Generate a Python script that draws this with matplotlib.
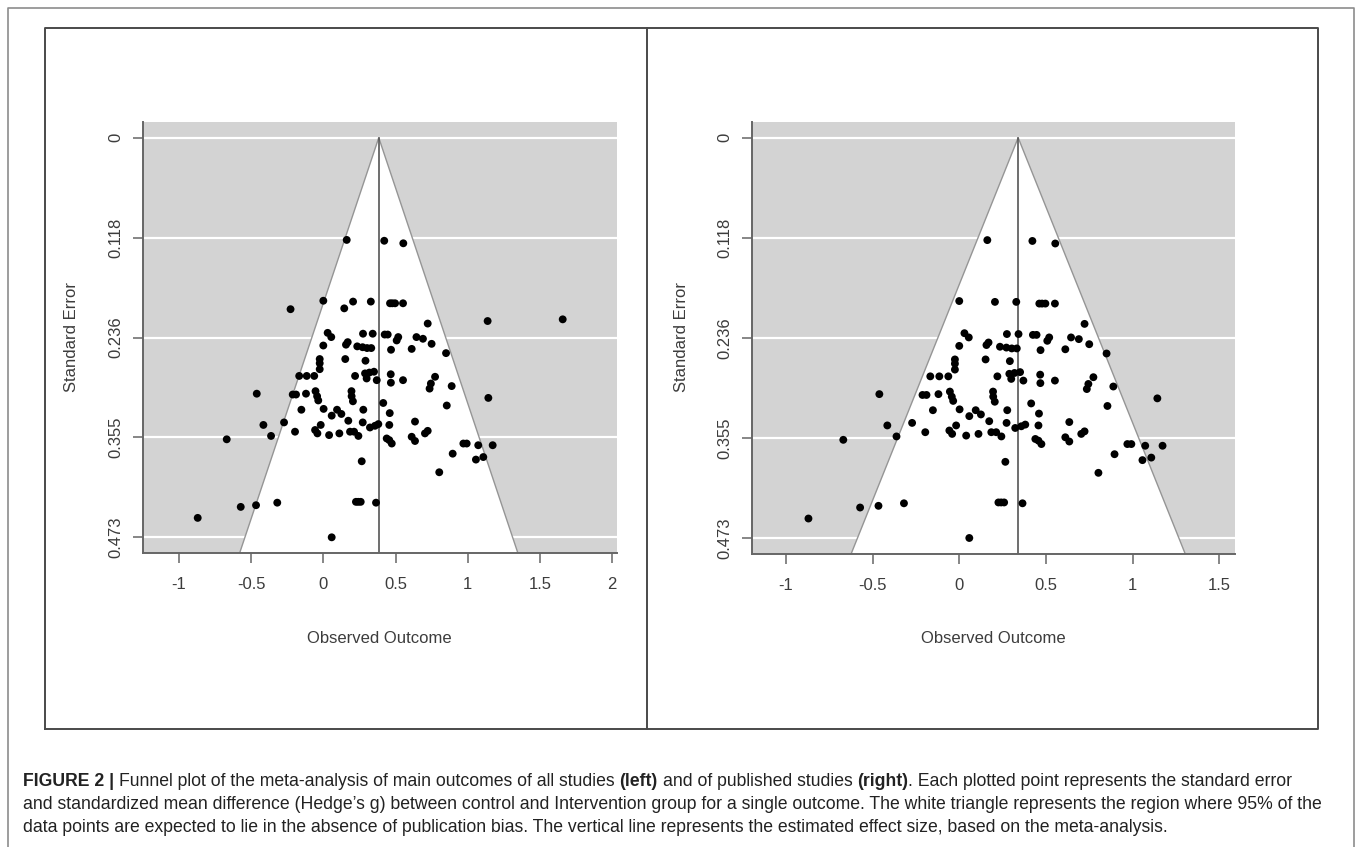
import matplotlib
matplotlib.use("Agg")
import matplotlib.pyplot as plt
import numpy as np

W, H, DPI = 1358, 847, 100

# ---------------- data ----------------
effect = [0.162, 0.422, 0.554, -0.227, 0.000, 0.145, 0.206, 0.329, 0.462, 0.478, 0.497, 0.552, 1.138, 1.658, 0.723,
          0.030, 0.055, 0.275, 0.342, 0.425, 0.446, 0.519, 0.508, 0.645, 0.690, 0.750, 0.850,
          0.000, 0.157, 0.169, 0.235, 0.272, 0.303, 0.332, 0.469, 0.612,
          -0.025, -0.025, -0.025, 0.152, 0.292,
          -0.167, -0.115, -0.063, 0.220, 0.289, 0.319, 0.351, 0.300, 0.370, 0.467, 0.468, 0.552, 0.774, 0.745, 0.736, 0.889, 1.143,
          -0.461, -0.212, -0.189, -0.120, -0.054, -0.043, -0.035, 0.195, 0.196, 0.205, 0.415, 0.855,
          -0.152, 0.002, 0.058, 0.095, 0.125, 0.277, 0.460,
          -0.415, -0.362, -0.272, -0.196, -0.057, -0.041, -0.018, 0.040, 0.111, 0.173, 0.185, 0.213, 0.243, 0.273, 0.323,
          0.358, 0.381, 0.457, 0.439, 0.457, 0.474, 0.635, 0.612, 0.635, 0.704, 0.723, 0.970, 0.993, 1.073, 1.173, 0.896,
          1.057, 1.108,
          -0.669, 0.266, 0.803,
          -0.870, -0.572, -0.466, -0.319, 0.226, 0.242, 0.259, 0.365, 0.058]
std_err = [0.121, 0.122, 0.125, 0.203, 0.193, 0.202, 0.194, 0.194, 0.196, 0.196, 0.196, 0.196, 0.217, 0.215, 0.220,
           0.231, 0.236, 0.232, 0.232, 0.233, 0.233, 0.236, 0.240, 0.236, 0.238, 0.244, 0.255,
           0.246, 0.245, 0.242, 0.247, 0.248, 0.249, 0.249, 0.251, 0.250,
           0.262, 0.267, 0.274, 0.262, 0.264,
           0.282, 0.282, 0.282, 0.282, 0.279, 0.278, 0.277, 0.285, 0.287, 0.280, 0.290, 0.287, 0.283, 0.291, 0.297, 0.294, 0.308,
           0.303, 0.304, 0.304, 0.303, 0.300, 0.306, 0.311, 0.300, 0.306, 0.312, 0.314, 0.317,
           0.322, 0.321, 0.329, 0.322, 0.327, 0.322, 0.326,
           0.340, 0.353, 0.337, 0.348, 0.346, 0.350, 0.340, 0.352, 0.350, 0.335, 0.348, 0.348, 0.353, 0.337, 0.343,
           0.341, 0.339, 0.340, 0.356, 0.358, 0.362, 0.336, 0.354, 0.359, 0.350, 0.347, 0.362, 0.362, 0.364, 0.364, 0.374,
           0.381, 0.378,
           0.357, 0.383, 0.396,
           0.450, 0.437, 0.435, 0.432, 0.431, 0.431, 0.431, 0.432, 0.473]
assert len(effect) == len(std_err)

unpublished = [3, 5, 12, 13]          # studies absent from the published-only plot
estimate_all = 0.384
estimate_published = 0.340

se_max = 0.473
se_ticks = [0.0, 0.11825, 0.2365, 0.35475, 0.473]
se_ticklabels = ["0", "0.118", "0.236", "0.355", "0.473"]
x_ticks_all = [-1, -0.5, 0, 0.5, 1, 1.5, 2]
x_ticklabels_all = ["-1", "-0.5", "0", "0.5", "1", "1.5", "2"]
x_ticks_pub = [-1, -0.5, 0, 0.5, 1, 1.5]
x_ticklabels_pub = ["-1", "-0.5", "0", "0.5", "1", "1.5"]
xlim_all = (-1.251, 2.032)
xlim_pub = (-1.194, 1.591)

caption_lines = [
    [("FIGURE 2 |", True, False), ("Funnel plot of the meta-analysis of main outcomes of all studies", False, True),
     ("(left)", True, True), ("and of published studies", False, True), ("(right)", True, True),
     (". Each plotted point represents the standard error", False, False)],
    [("and standardized mean difference (Hedge\u2019s g) between control and Intervention group for a single outcome. "
      "The white triangle represents the region where 95% of the", False, False)],
    [("data points are expected to lie in the absence of publication bias. The vertical line represents the "
      "estimated effect size, based on the meta-analysis.", False, False)],
]

# ---------------- figure ----------------
FONT = ["Liberation Sans", "DejaVu Sans"]
plt.rcParams["font.family"] = FONT
plt.rcParams["axes.unicode_minus"] = False

fig = plt.figure(figsize=(W / DPI, H / DPI), dpi=DPI)
fig.patch.set_facecolor("white")


def px_box(x0, y0, x1, y1):
    return [x0 / W, 1 - y1 / H, (x1 - x0) / W, (y1 - y0) / H]


def fx(x):
    return x / W


def fy(y):
    return 1 - y / H


AXCOL = "#666666"
TXTCOL = "#3c3c3c"


def funnel(ax, x, se, est, xlim, xticks, xlabels):
    pad = 0.04 * se_max
    ybot = se_max + pad
    ax.set_xlim(*xlim)
    ax.set_ylim(ybot, -pad)
    ax.set_facecolor("#d3d3d3")
    for t in se_ticks:
        ax.axhline(t, color="white", lw=1.6, zorder=1)
    ax.fill([est - 1.96 * ybot, est, est + 1.96 * ybot], [ybot, 0, ybot],
            facecolor="white", edgecolor="#959595", lw=1.0, zorder=2)
    ax.plot([est, est], [0, ybot], color="#555555", lw=1.2, zorder=3)
    ax.scatter(x, se, s=32, color="black", edgecolors="none", zorder=4)
    for s in ("top", "right"):
        ax.spines[s].set_visible(False)
    for s in ("left", "bottom"):
        ax.spines[s].set_color(AXCOL)
        ax.spines[s].set_linewidth(1.4)
        ax.spines[s].set_zorder(5)
    ax.set_xticks(xticks)
    ax.set_xticklabels(xlabels)
    ax.set_yticks(se_ticks)
    ax.set_yticklabels(se_ticklabels, rotation=90, va="center")
    ax.tick_params(axis="both", direction="out", length=7, width=1.1, color=AXCOL,
                   labelsize=12, labelcolor=TXTCOL)
    ax.tick_params(axis="x", pad=10)
    ax.tick_params(axis="y", pad=7)


x_all = np.array(effect)
s_all = np.array(std_err)
pub_mask = np.ones(len(effect), dtype=bool)
pub_mask[unpublished] = False

ax1 = fig.add_axes(px_box(142.7, 121.7, 616.7, 553.3))
funnel(ax1, x_all, s_all, estimate_all, xlim_all, x_ticks_all, x_ticklabels_all)
ax2 = fig.add_axes(px_box(752.3, 121.7, 1235.0, 554.0))
funnel(ax2, x_all[pub_mask], s_all[pub_mask], estimate_published, xlim_pub, x_ticks_pub, x_ticklabels_pub)

# axis titles
for cx in (379.7, 993.7):
    fig.text(fx(cx), fy(638), "Observed Outcome", ha="center", va="center", fontsize=12, color=TXTCOL)
for cx in (71, 681):
    fig.text(fx(cx), fy(337.5), "Standard Error", ha="center", va="center", rotation=90,
             fontsize=12, color=TXTCOL)

# frames: outer page frame (open at the bottom), chart box with divider
fig.add_artist(plt.Line2D([fx(8), fx(8), fx(1354), fx(1354)], [fy(850), fy(8.3), fy(8.3), fy(850)],
                          transform=fig.transFigure, color="#8c8c8c", lw=1.2))
fig.add_artist(plt.Line2D([fx(45), fx(45), fx(1318), fx(1318), fx(45)],
                          [fy(728.5), fy(28.3), fy(28.3), fy(728.5), fy(728.5)],
                          transform=fig.transFigure, color="#4a4a4a", lw=1.4))
fig.add_artist(plt.Line2D([fx(647), fx(647)], [fy(728.5), fy(28.3)], transform=fig.transFigure,
                          color="#4a4a4a", lw=1.4))

# caption with mixed weights
renderer = fig.canvas.get_renderer()


def measure(txt, bold, size):
    t = fig.text(0, 0, txt, fontsize=size, fontweight="bold" if bold else "normal")
    w = t.get_window_extent(renderer=renderer).width
    t.remove()
    return w


def needs_space(segs, i):
    return i > 0 and (segs[i][2] or segs[i - 1][0].endswith("|"))


def line_width(segs, size):
    sp = measure("a a", False, size) - measure("aa", False, size)
    tot = 0
    for i, (txt, bold, lead) in enumerate(segs):
        tot += measure(txt, bold, size)
        if needs_space(segs, i):
            tot += sp
    return tot, sp


base = 12.0
w0, _ = line_width(caption_lines[1], base)
cap_size = base * (1325 - 23) / w0

y_lines = [786, 809, 832]
for segs, yb in zip(caption_lines, y_lines):
    _, sp = line_width(segs, cap_size)
    x = 23.0
    for i, (txt, bold, lead) in enumerate(segs):
        if needs_space(segs, i):
            x += sp
        t = fig.text(fx(x), fy(yb), txt, fontsize=cap_size, fontweight="bold" if bold else "normal",
                     ha="left", va="baseline", color="#222222")
        x += t.get_window_extent(renderer=renderer).width

fig.savefig("out.png", dpi=DPI, facecolor="white")
